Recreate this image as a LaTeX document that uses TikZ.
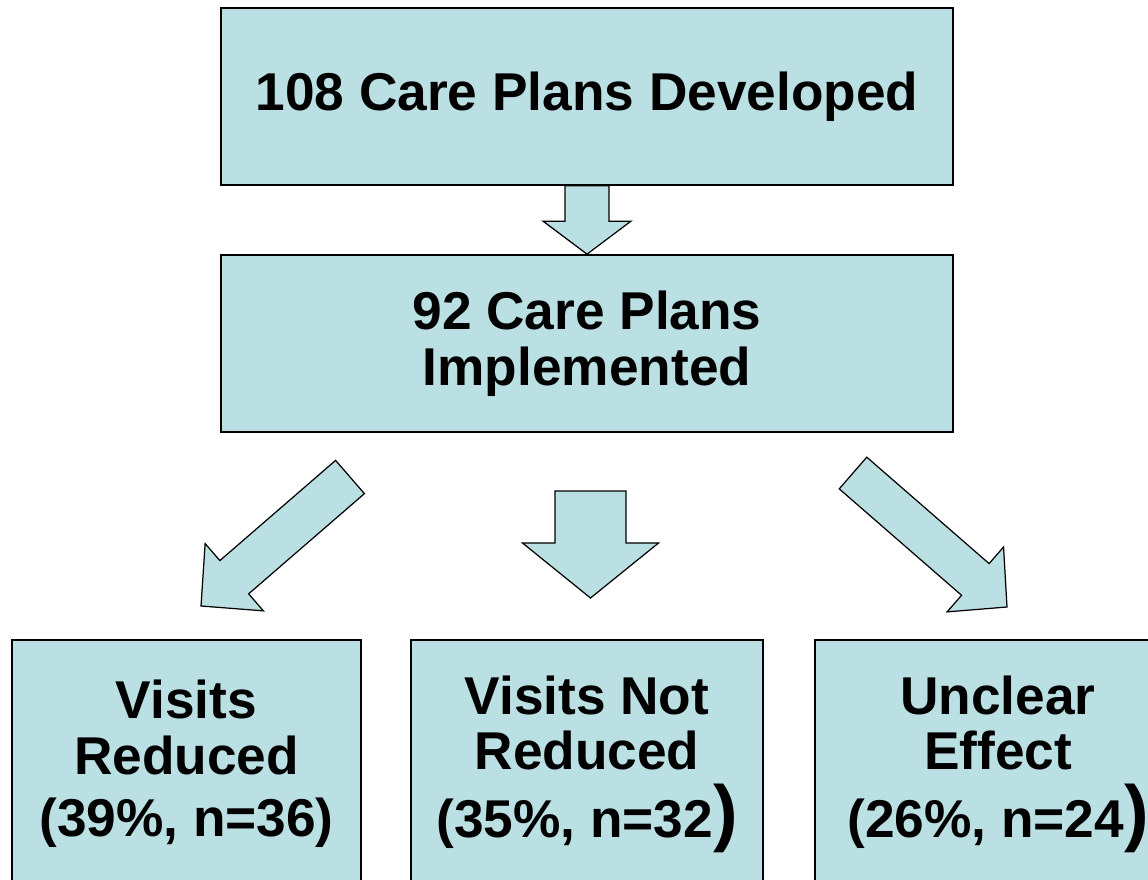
\documentclass[tikz,border=0pt]{standalone}
\usepackage{fontspec}
\setmainfont{Liberation Sans}
\usetikzlibrary{calc,positioning,backgrounds}

\definecolor{planfill}{RGB}{187,224,227}

% wide closing bracket used in two of the outcome boxes
\newcommand{\bigclose}{{\fontsize{42}{42}\selectfont)}}

% block arrow: tail, tip, half shaft width, half head width, head length
\newcommand{\blockarrow}[5]{%
  \coordinate (neck) at ($(#2)!#5!(#1)$);
  \draw[flowarrow] ($(#1)!#3!90:(#2)$) -- ($(neck)!#3!90:(#2)$)
    -- ($(neck)!#4!90:(#2)$) -- (#2)
    -- ($(neck)!#4!-90:(#2)$) -- ($(neck)!#3!-90:(#2)$)
    -- ($(#1)!#3!-90:(#2)$) -- cycle;}

\tikzset{
  plan/.style={draw=black, line width=1pt, fill=planfill, align=center,
    inner sep=0pt, font=\fontsize{30.3}{32}\selectfont\bfseries},
  outcome/.style={draw=black, line width=0.7pt, fill=planfill, align=center,
    inner sep=0pt, minimum height=4.96cm,
    font=\fontsize{30.3}{31.5}\selectfont\bfseries},
  flowarrow/.style={draw=black, line width=0.7pt, fill=planfill,
    line join=miter},
}

\begin{document}
\begin{tikzpicture}[x=0.02cm, y=-0.02cm]
    \path[use as bounding box, clip] (0,0) rectangle (1148,879);

    % care plan boxes
    \node[plan, minimum width=14.64cm, minimum height=3.54cm] (dev)
      at (587,96.5) {108 Care Plans Developed};
    \node[plan, minimum width=14.64cm, minimum height=3.54cm] (impl)
      at (587,343.5) {92 Care Plans\\Implemented};

    % outcomes, running off the bottom edge
    \node[outcome, minimum width=6.98cm] (red) at (186.5,764)
      {Visits\\Reduced\\[4pt](39\%, n=36)};
    \node[outcome, minimum width=7.04cm] (notred) at (587,764)
      {Visits Not\\Reduced\\[7pt](35\%, n=32\bigclose};
    \node[outcome, minimum width=7.32cm] (unclear) at (998,764)
      {Unclear\\Effect\\[7pt](26\%, n=24\bigclose};

    % free ends of the split arrows
    \coordinate (left tail) at (350,477);
    \coordinate (left tip) at (201,606);
    \coordinate (mid tail) at (590.5,491);
    \coordinate (mid tip) at (590.5,598);
    \coordinate (right tail) at (853,473);
    \coordinate (right tip) at (1007,607);

    % arrows
    \begin{scope}[on background layer]
      \blockarrow{dev.south}{impl.north}{0.44cm}{0.88cm}{0.66cm}
    \end{scope}
    \blockarrow{left tail}{left tip}{0.44cm}{0.89cm}{0.88cm}
    \blockarrow{mid tail}{mid tip}{0.71cm}{1.36cm}{1.1cm}
    \blockarrow{right tail}{right tip}{0.42cm}{0.86cm}{0.84cm}
\end{tikzpicture}
\end{document}
